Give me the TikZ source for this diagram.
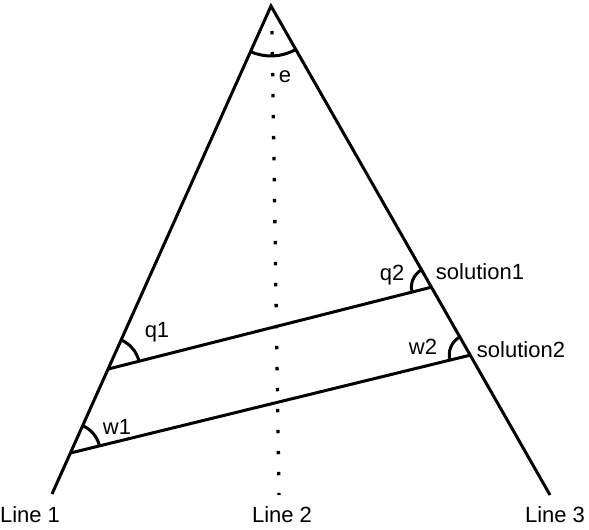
\documentclass[tikz,border=0pt]{standalone}
\usepackage{fontspec}
\setmainfont{Liberation Sans}
\usetikzlibrary{calc}
\begin{document}
\begin{tikzpicture}[x=1pt,y=1pt,
  ln/.style={line width=3pt},
  arcln/.style={line width=3pt},
  dots/.style={line width=3.3pt,dash pattern=on 3.3pt off 17.7pt},
  lbl/.style={font=\fontsize{22}{26}\selectfont,inner sep=0pt}]
\useasboundingbox (0,0) rectangle (589,530);
\coordinate (A) at (271,524);
\coordinate (L1) at (52,36);
\coordinate (L3) at (550,35);
\coordinate (D1) at (272,499);
\coordinate (D2) at (279,35);
\coordinate (P1) at ($(A)!0.744!(L1)$);
\coordinate (W1) at ($(A)!0.916!(L1)$);
\coordinate (S1) at ($(A)!0.575!(L3)$);
\coordinate (S2) at ($(A)!0.714!(L3)$);
% main lines
\draw[ln] (L1) -- (A) -- (L3);
\draw[dots] (D1) -- (D2);
\draw[ln] (P1) -- (S1);
\draw[ln] (W1) -- (S2);
% angle arcs
\draw[arcln] ($(A)+(245.8:50)$) arc (245.8:299.7:50);
\draw[arcln] ($(P1)+(14.2:32)$) arc (14.2:65.8:32);
\draw[arcln] ($(W1)+(13.8:30)$) arc (13.8:65.8:30);
\draw[arcln] ($(S1)+(119.7:20)$) arc (119.7:194.2:20);
\draw[arcln] ($(S2)+(119.7:21)$) arc (119.7:193.8:21);
% labels
\node[lbl] (le) at (285,453) {e};
\node[lbl] (lq1) at (157,198) {q1};
\node[lbl] (lw1) at (117,103) {w1};
\node[lbl] (lq2) at (392,255) {q2};
\node[lbl] (ls1) at (480,258) {solution1};
\node[lbl] (lw2) at (423,183) {w2};
\node[lbl] (ls2) at (521,180) {solution2};
\node[lbl] (n1) at (30,15) {Line 1};
\node[lbl] (n2) at (282,15) {Line 2};
\node[lbl] (n3) at (555,15) {Line 3};
\end{tikzpicture}
\end{document}
